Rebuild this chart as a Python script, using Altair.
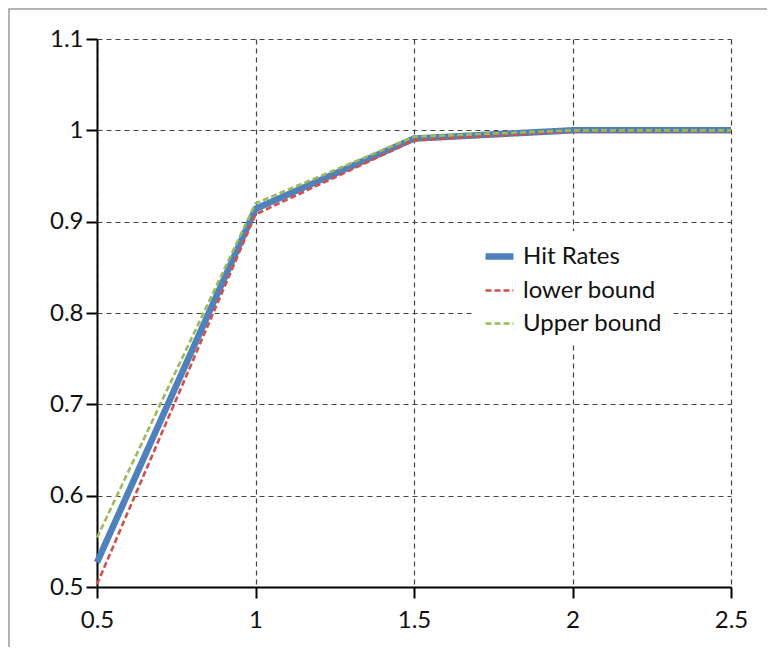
import altair as alt
import pandas as pd

x_vals = [0.5, 1.0, 1.5, 2.0, 2.5]
hit_rates = [0.527, 0.914, 0.991, 1.0, 1.0]
lower_bound = [0.503, 0.908, 0.989, 0.999, 0.999]
upper_bound = [0.554, 0.920, 0.993, 1.0, 1.0]
series_names = ["Hit Rates", "lower bound", "Upper bound"]
series_colors = ["#4F81BD", "#D0504D", "#9BBB59"]
x_ticks = [0.5, 1, 1.5, 2, 2.5]
y_ticks = [0.5, 0.6, 0.7, 0.8, 0.9, 1.0, 1.1]

rows = []
for name, vals in zip(series_names, [hit_rates, lower_bound, upper_bound]):
    for x, y in zip(x_vals, vals):
        rows.append({"x": x, "y": y, "series": name, "order": series_names.index(name)})
df = pd.DataFrame(rows)

W, H = 634, 548
FONT = "Lato"

border = alt.Chart(pd.DataFrame({"a": [0]})).mark_rect(
    fill=None, stroke="#9a9a9a", strokeWidth=1.5
).encode(
    x=alt.value(-88), x2=alt.value(720), y=alt.value(-30), y2=alt.value(660)
)

lines = alt.Chart(df).mark_line(clip=False).encode(
    x=alt.X("x:Q", scale=alt.Scale(domain=[0.5, 2.5], nice=False, zero=False),
            axis=alt.Axis(values=x_ticks, title=None, format="~g", labelFlush=False)),
    y=alt.Y("y:Q", scale=alt.Scale(domain=[0.5, 1.1], nice=False, zero=False),
            axis=alt.Axis(values=y_ticks, title=None, format="~g", labelFlush=False)),
    color=alt.Color("series:N", scale=alt.Scale(domain=series_names, range=series_colors),
                    legend=alt.Legend(title=None)),
    strokeDash=alt.StrokeDash("series:N", scale=alt.Scale(domain=series_names,
                              range=[[1, 0], [6, 3], [6, 3]]), legend=alt.Legend(title=None)),
    strokeWidth=alt.StrokeWidth("series:N", scale=alt.Scale(type="ordinal", domain=series_names,
                                range=[6.5, 2.6, 2.6]), legend=alt.Legend(title=None)),
    detail="series:N",
    order="order:Q",
)

chart = alt.layer(border, lines).properties(
    width=W, height=H,
    autosize=alt.AutoSizeParams(type="none"),
    padding={"left": 89, "top": 31, "right": 36, "bottom": 60},
).configure_view(stroke=None).configure_axis(
    domainColor="#000000", domainWidth=2, tickColor="#000000", tickWidth=2, tickSize=11,
    gridColor="#444444", gridDash=[5, 4], gridWidth=1.2,
    labelFont=FONT, labelFontSize=24, labelColor="#111111",
).configure_axisY(labelPadding=3).configure_axisX(labelPadding=10).configure_legend(
    orient="none", legendX=377, legendY=192, fillColor="white",
    labelFont=FONT, labelFontSize=24, labelColor="#111111",
    symbolType="stroke", symbolSize=784, rowPadding=5, labelOffset=6, padding=8,
)

chart.save("out.html", embed_options={"renderer": "svg", "actions": False})
